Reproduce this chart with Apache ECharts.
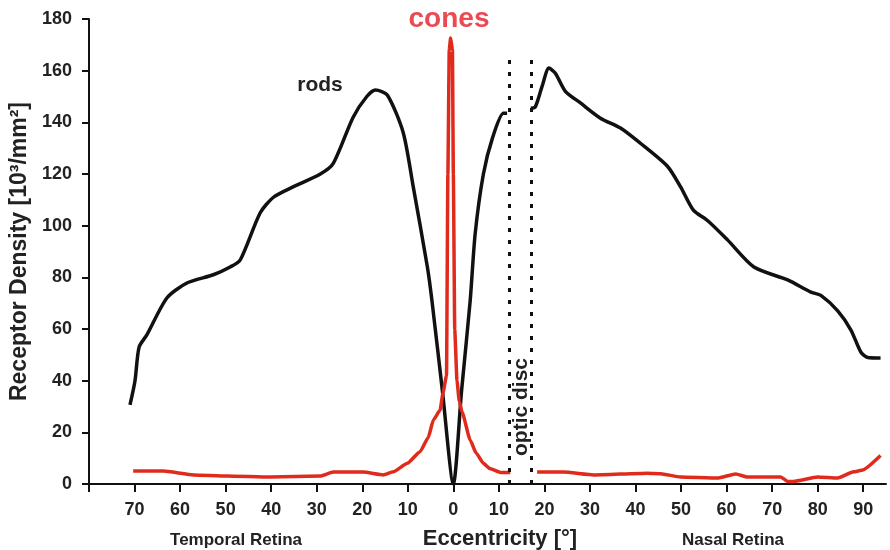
<!DOCTYPE html>
<html>
<head>
<meta charset="utf-8">
<script src="https://cdn.jsdelivr.net/npm/echarts@6/dist/echarts.min.js"></script>
<style>
html,body{margin:0;padding:0;background:#fff;}
#chart{width:890px;height:550px;}
</style>
</head>
<body>
<div id="chart"></div>
<script>
// eccentricity: temporal side negative, nasal side positive
var rodsX = [-71, -69.9, -69, -67.3, -62.9, -58.5, -52.7, -49, -46.8, -42.4, -39.5, -35.2, -29.2, -26.4, -22, -19, -17.1, -14.5, -11, -8.8, -5.7, -4.7, -2.4, 0,
  1.8, 3.7, 4.8, 6.6, 8.6, 11, 11.8, 14.5,
  17, 18, 19.5, 21, 22.4, 24.6, 27.9, 32.3, 36.7, 41, 47, 49.9, 52.7, 55.8, 60.2, 66, 73.4, 78.5, 80.7, 84.4, 87.3, 89.5, 91, 93.8];
var rodsY = [30.6, 40, 53, 57.7, 72, 77.8, 81, 84, 86.7, 105, 111, 115, 120, 124, 142, 150, 152.5, 150.6, 136, 115, 84, 71, 36, 0,
  36, 71, 97, 120, 134, 143.5, 143.5, null,
  145.5, 146, 154, 161, 159, 152, 147.5, 141.6, 137.8, 132, 123, 115, 106, 102, 94.5, 84, 79, 74.3, 73, 67, 59.6, 51, 49, 48.8];

var conesX = [-70.3, -63.7, -57, -49.7, -40.2, -29.2, -26.4, -19.8, -15.4, -13.2, -10.1, -7.3, -5.5, -4.4, -2.9, -2.3, -1.5, -1.2, -0.9, -0.6, -0.2, 0, 0.3, 0.8, 1.3, 1.9, 3.7, 5, 6.6, 8, 10.3, 12.5, 15,
  18.4, 24.2, 30.8, 42.6, 45.5, 49.9, 58, 62, 64.6, 71.9, 73.4, 74.7, 80, 84.4, 87.9, 89.9, 93.8];
var conesY = [5, 5, 3.5, 3.1, 2.7, 3.1, 4.6, 4.6, 3.5, 4.7, 8, 12.5, 18, 24.8, 28.6, 35, 42, 120, 168, 172.6, 168, 120, 60, 40, 32, 28, 17, 12, 8, 6, 4.5, 4.5, null,
  4.6, 4.6, 3.5, 4.2, 4, 2.7, 2.3, 3.9, 2.7, 2.7, 1, 1, 2.7, 2.3, 4.7, 5.4, 11];

var xTicks = [-80, -70, -60, -50, -40, -30, -20, -10, 0, 10, 20, 30, 40, 50, 60, 70, 80, 90];
var xLabels = [-70, -60, -50, -40, -30, -20, -10, 0, 10, 20, 30, 40, 50, 60, 70, 80, 90];
var opticDisc = [12.3, 17.1];
var opticTop = 167;

function pairs(xs, ys) {
  var out = [];
  for (var i = 0; i < xs.length; i++) {
    out.push([xs[i], ys[i] == null ? '-' : ys[i]]);
  }
  return out;
}

var chart = echarts.init(document.getElementById('chart'));
var font = '"Liberation Sans", Arial, sans-serif';
var option = {
  animation: false,
  grid: { left: 89, right: 4, top: 19, bottom: 66 },
  xAxis: {
    type: 'value',
    min: -80,
    max: 95,
    interval: 10,
    splitLine: { show: false },
    axisLine: { onZero: false, lineStyle: { color: '#111', width: 2 } },
    axisTick: { length: 8, lineStyle: { color: '#111', width: 2 }, customValues: xTicks },
    axisLabel: {
      customValues: xLabels,
      margin: 17,
      color: '#222',
      fontSize: 18,
      fontWeight: 'bold',
      fontFamily: font,
      formatter: function (v) { return Math.abs(v); }
    }
  },
  yAxis: {
    type: 'value',
    min: 0,
    max: 180,
    interval: 20,
    name: 'Receptor Density [10³/mm²]',
    nameLocation: 'middle',
    nameGap: 57,
    nameTextStyle: { color: '#222', fontSize: 23, fontWeight: 'bold', fontFamily: font },
    splitLine: { show: false },
    axisLine: { show: true, onZero: false, lineStyle: { color: '#111', width: 2 } },
    axisTick: { show: true, length: 7, lineStyle: { color: '#111', width: 2 } },
    axisLabel: { margin: 17, color: '#222', fontSize: 18, fontWeight: 'bold', fontFamily: font }
  },
  series: [
    {
      name: 'rods',
      type: 'line',
      data: pairs(rodsX, rodsY),
      showSymbol: false,
      smooth: 0.25,
      connectNulls: false,
      lineStyle: { color: '#111', width: 3.5 },
      markLine: {
        silent: true,
        symbol: 'none',
        label: { show: false },
        lineStyle: { color: '#111', width: 3, type: [4, 8] },
        data: [
          [{ coord: [opticDisc[0], 0] }, { coord: [opticDisc[0], opticTop] }],
          [{ coord: [opticDisc[1], 0] }, { coord: [opticDisc[1], opticTop] }]
        ]
      }
    },
    {
      name: 'cones',
      type: 'line',
      data: pairs(conesX, conesY),
      showSymbol: false,
      smooth: 0.15,
      smoothMonotone: 'x',
      connectNulls: false,
      lineStyle: { color: '#e02a1c', width: 3.5 }
    }
  ],
  graphic: [
    { type: 'text', x: 449, y: 19, style: { text: 'cones', fill: '#ec4a52', font: 'bold 28px ' + font, align: 'center', verticalAlign: 'middle' } },
    { type: 'text', x: 320, y: 85, style: { text: 'rods', fill: '#222', font: 'bold 21px ' + font, align: 'center', verticalAlign: 'middle' } },
    { type: 'text', x: 521, y: 407, rotation: Math.PI / 2, style: { text: 'optic disc', fill: '#222', font: 'bold 21px ' + font, align: 'center', verticalAlign: 'middle' } },
    { type: 'text', x: 236, y: 540, style: { text: 'Temporal Retina', fill: '#222', font: 'bold 17px ' + font, align: 'center', verticalAlign: 'middle' } },
    { type: 'text', x: 500, y: 539, style: { text: 'Eccentricity [°]', fill: '#222', font: 'bold 22px ' + font, align: 'center', verticalAlign: 'middle' } },
    { type: 'text', x: 733, y: 540, style: { text: 'Nasal Retina', fill: '#222', font: 'bold 17px ' + font, align: 'center', verticalAlign: 'middle' } }
  ]
};
chart.setOption(option);
</script>
</body>
</html>
